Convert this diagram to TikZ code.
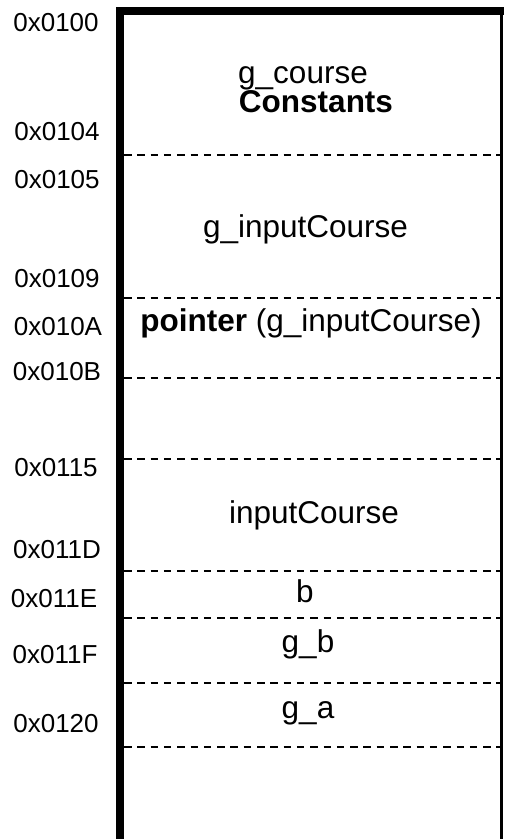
\documentclass[tikz,border=0pt]{standalone}
\usepackage{fontspec}
\setmainfont{Liberation Sans}
\begin{document}
\begin{tikzpicture}[x=1pt,y=-1pt,
  addr/.style={anchor=base,inner sep=0pt,font=\fontsize{26}{26}\selectfont},
  cell/.style={anchor=base,inner sep=0pt,font=\fontsize{31.5}{31.5}\selectfont},
  sep/.style={line width=2pt,dash pattern=on 7.5pt off 5.8pt}]
\useasboundingbox (0,0) rectangle (504,839);
% frame
\coordinate (tl) at (120,11);
\coordinate (bl) at (120,839);
\coordinate (tr) at (504,11);
\coordinate (rt) at (501.5,11);
\coordinate (rb) at (501.5,839);
\draw[line width=8pt] (bl) -- (120,7) ;
\draw[line width=8pt] (116,11) -- (tr);
\draw[line width=3pt] (rt) -- (rb);
% separators
\foreach \y/\n in {155/s1,298/s2,378/s3,459/s4,571/s5,618/s6,683/s7,747/s8}{
  \coordinate (\n a) at (124,\y);
  \coordinate (\n b) at (500,\y);
  \draw[sep] (\n a) -- (\n b);
}
% addresses
\node[addr] (a0100) at (56,31) {0x0100};
\node[addr] (a0104) at (57,140) {0x0104};
\node[addr] (a0105) at (57,188) {0x0105};
\node[addr] (a0109) at (57,287) {0x0109};
\node[addr] (a010A) at (58,335) {0x010A};
\node[addr] (a010B) at (57,380) {0x010B};
\node[addr] (a0115) at (56,476) {0x0115};
\node[addr] (a011D) at (57,558) {0x011D};
\node[addr] (a011E) at (54,607) {0x011E};
\node[addr] (a011F) at (55,663) {0x011F};
\node[addr] (a0120) at (56,732) {0x0120};
% contents
\node[cell] (gcourse) at (303,83) {g\_course};
\node[cell] (const) at (316,112) {\textbf{Constants}};
\node[cell] (ginput) at (305.5,237) {g\_inputCourse};
\node[cell] (ptr) at (311,331) {\textbf{pointer} (g\_inputCourse)};
\node[cell] (input) at (314,523) {inputCourse};
\node[cell] (b) at (305,602) {b};
\node[cell] (gb) at (308,652) {g\_b};
\node[cell] (ga) at (308,718) {g\_a};
\end{tikzpicture}
\end{document}
